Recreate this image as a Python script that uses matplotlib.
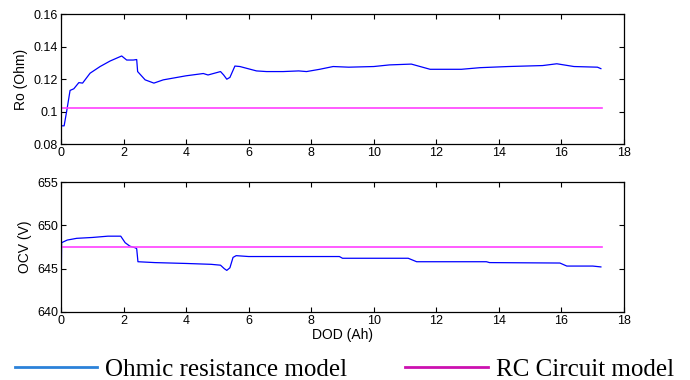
import matplotlib
matplotlib.use("Agg")
import matplotlib.pyplot as plt
from matplotlib.lines import Line2D

# ---- data ----
dod_ro = [0.0, 0.02, 0.1, 0.18, 0.29, 0.41, 0.57, 0.69, 0.93, 1.25, 1.57, 1.94,
          2.1, 2.31, 2.42, 2.45, 2.69, 2.9, 2.97, 3.27, 4.0, 4.55, 4.7, 5.1,
          5.2, 5.3, 5.4, 5.56, 5.72, 6.25, 6.57, 7.1, 7.6, 7.85, 8.27, 8.7,
          9.2, 10.0, 10.5, 11.2, 11.8, 12.8, 13.4, 14.3, 15.4, 15.85, 16.4,
          17.15, 17.26]
ro_ohmic = [0.0912, 0.0912, 0.0912, 0.100, 0.113, 0.114, 0.1178, 0.1175, 0.1236,
            0.1277, 0.1311, 0.1342, 0.1317, 0.1317, 0.132, 0.1246, 0.1195,
            0.118, 0.1175, 0.1195, 0.122, 0.1234, 0.1225, 0.1246, 0.1225,
            0.1199, 0.121, 0.128, 0.1277, 0.125, 0.1246, 0.1246, 0.125,
            0.1246, 0.126, 0.1277, 0.1273, 0.1277, 0.1287, 0.1292, 0.126,
            0.126, 0.127, 0.1277, 0.1283, 0.1294, 0.1277, 0.1273, 0.1264]
dod_rc = [0.0, 17.3]
ro_rc = [0.1019, 0.1019]

dod_ocv = [0.0, 0.02, 0.2, 0.5, 1.0, 1.5, 1.91, 2.05, 2.2, 2.38, 2.42, 2.46,
           3.0, 4.0, 4.8, 5.1, 5.22, 5.3, 5.4, 5.5, 5.6, 6.0, 8.9, 9.0,
           11.1, 11.37, 13.6, 13.7, 15.95, 16.17, 17.0, 17.26]
ocv_ohmic = [640.0, 648.0, 648.3, 648.5, 648.6, 648.75, 648.75, 648.0, 647.6,
             647.4, 647.3, 645.8, 645.7, 645.6, 645.5, 645.4, 645.0, 644.8,
             645.1, 646.3, 646.5, 646.4, 646.4, 646.2, 646.2, 645.8, 645.8,
             645.7, 645.65, 645.3, 645.3, 645.2]
ocv_rc = [647.5, 647.5]

xticks = [0, 2, 4, 6, 8, 10, 12, 14, 16, 18]
ro_ticks = [0.08, 0.1, 0.12, 0.14, 0.16]
ro_ticklabels = ["0.08", "0.1", "0.12", "0.14", "0.16"]
ocv_ticks = [640, 645, 650, 655]

blue = "#0000ff"
magenta = "#ff40ff"

plt.rcParams['font.family'] = ['Liberation Sans', 'DejaVu Sans']

fig = plt.figure(figsize=(6.9, 3.8), dpi=100)
ax1 = fig.add_axes([0.0884, 0.621, 0.816, 0.342])
ax2 = fig.add_axes([0.0884, 0.179, 0.816, 0.342])

for ax in (ax1, ax2):
    ax.set_xlim(0, 18)
    ax.set_xticks(xticks)
    ax.tick_params(direction='in', top=True, right=True, labelsize=9,
                   length=3.5, width=0.8, pad=2)
    for s in ax.spines.values():
        s.set_linewidth(0.9)

ax1.plot(dod_ro, ro_ohmic, color=blue, lw=0.9)
ax1.plot(dod_rc, ro_rc, color=magenta, lw=1.2)
ax1.set_ylim(0.08, 0.16)
ax1.set_yticks(ro_ticks)
ax1.set_yticklabels(ro_ticklabels)
ax1.set_ylabel("Ro (Ohm)", fontsize=10, labelpad=4)

ax2.plot(dod_ocv, ocv_ohmic, color=blue, lw=0.9)
ax2.plot(dod_rc, ocv_rc, color=magenta, lw=1.2)
ax2.set_ylim(640, 655)
ax2.set_yticks(ocv_ticks)
ax2.set_ylabel("OCV (V)", fontsize=10, labelpad=4)
ax2.set_xlabel("DOD (Ah)", fontsize=10, labelpad=1)

serif = ['Liberation Serif', 'DejaVu Serif']
h1 = Line2D([], [], color="#2b82d9", lw=2)
h2 = Line2D([], [], color="#cc10b0", lw=2)
common = dict(loc='center left', frameon=False, handlelength=3.3,
              handletextpad=0.32, borderpad=0, borderaxespad=0,
              prop={'family': serif, 'size': 18})
fig.legend([h1], ["Ohmic resistance model"],
           bbox_to_anchor=(0.0217, 0.028), **common)
fig.legend([h2], ["RC Circuit model"],
           bbox_to_anchor=(0.587, 0.028), **common)

fig.savefig("out.png", dpi=100)
